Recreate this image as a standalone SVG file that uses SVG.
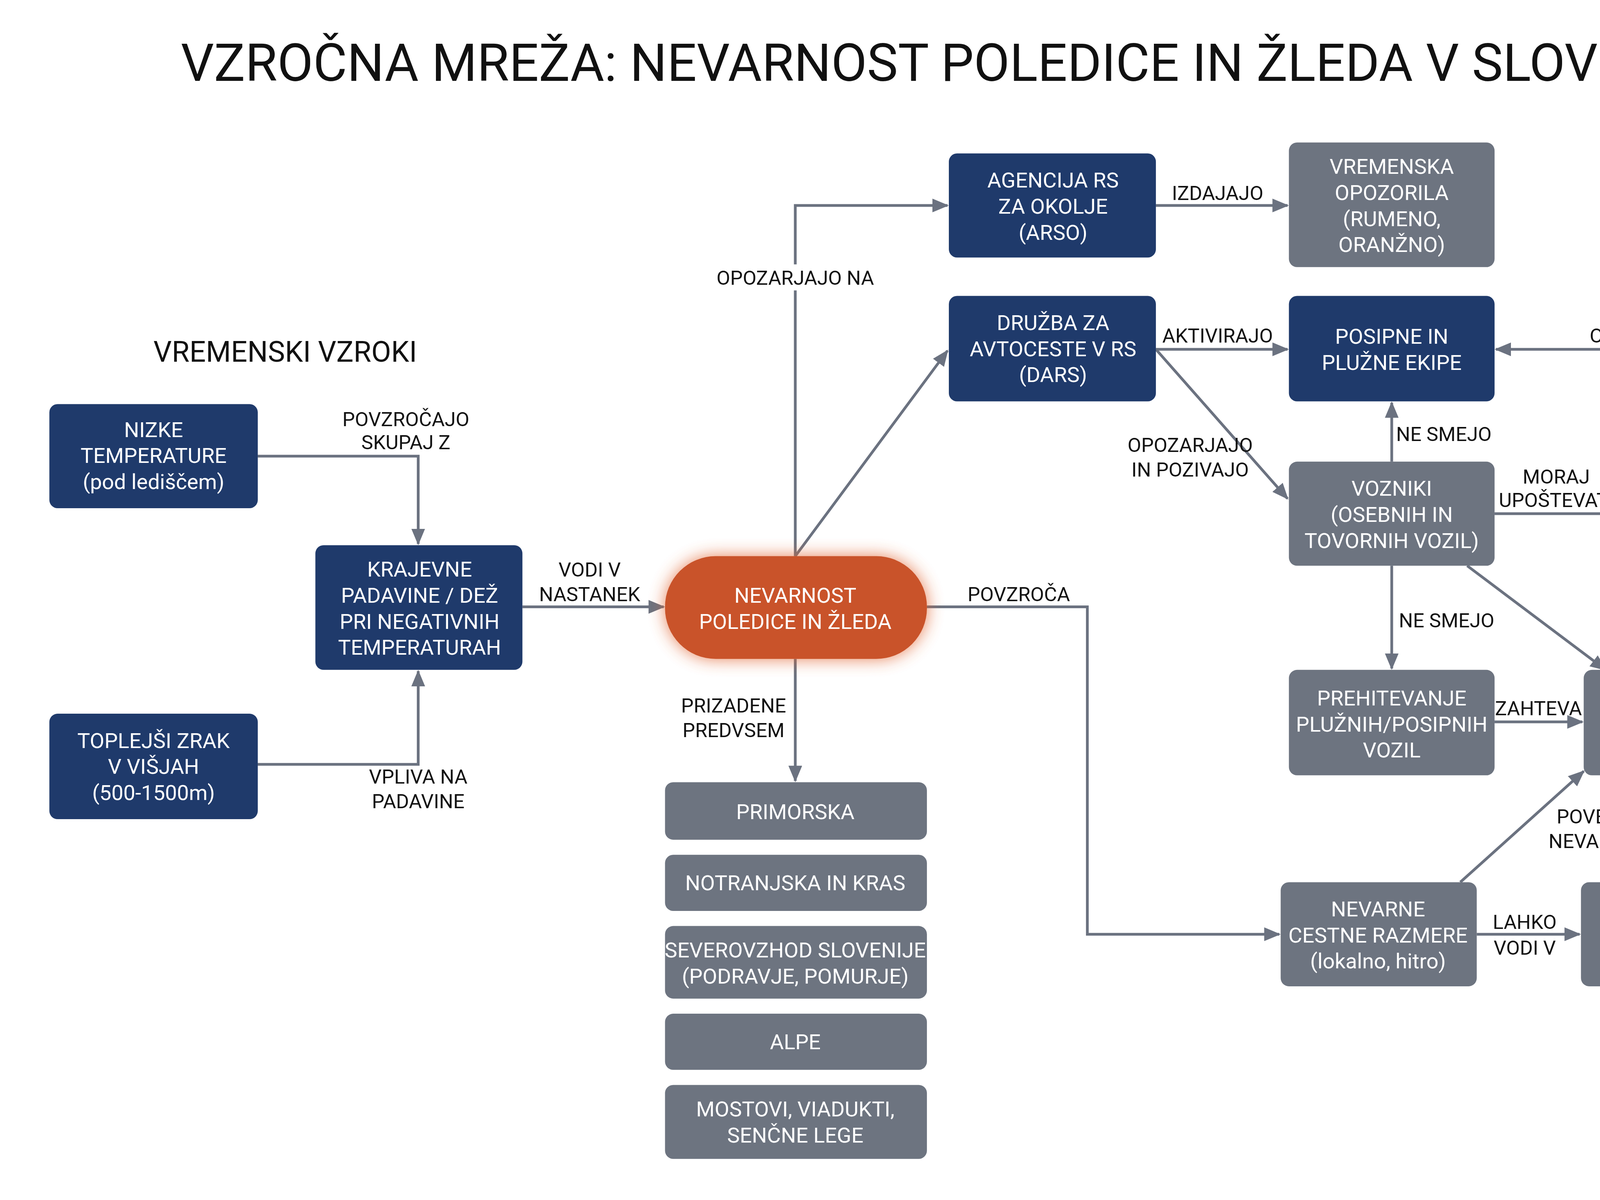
<svg xmlns="http://www.w3.org/2000/svg" width="5504" height="3072" viewBox="0 0 5504 3072">
<defs>
<marker id="ah" markerUnits="userSpaceOnUse" markerWidth="12" markerHeight="10" refX="11" refY="5" orient="auto"><path d="M0,0 L12,5 L0,10 Z" fill="#6b7280"/></marker>
<filter id="glow" x="-30%" y="-50%" width="160%" height="200%"><feGaussianBlur stdDeviation="6"/></filter>
<style>
.nv{fill:#1f3a6b}
.gr{fill:#6d7480}
.t{font-family:Roboto,"Liberation Sans",sans-serif;font-size:15.5px;fill:#ffffff;text-anchor:middle}
.l{font-family:Roboto,"Liberation Sans",sans-serif;font-size:14.5px;fill:#111111;text-anchor:middle}
.c{fill:none;stroke:#6b7280;stroke-width:2;marker-end:url(#ah)}
</style>
</defs>
<rect width="5504" height="3072" fill="#ffffff"/>
<g transform="scale(3.5102,3.5068)">
<text x="784" y="59" font-family="Roboto,'Liberation Sans',sans-serif" font-size="38" fill="#111" text-anchor="middle">VZROČNA MREŽA: NEVARNOST POLEDICE IN ŽLEDA V SLOVENIJI (JANUAR)</text>
<text x="208" y="264" font-family="Roboto,'Liberation Sans',sans-serif" font-size="21" fill="#111" text-anchor="middle">VREMENSKI VZROKI</text>

<g id="connectors">
<path class="c" d="M188,333 H305 V397"/>
<path class="c" d="M188,558 H305 V490"/>
<path class="c" d="M381,443 H484"/>
<path class="c" d="M580,406 V150 H691"/>
<path class="c" d="M580,406 L691,256"/>
<path class="c" d="M580,481 V570"/>
<path class="c" d="M676,443 H793 V682 H933"/>
<path class="c" d="M843,150 H939"/>
<path class="c" d="M843,255 H939"/>
<path class="c" d="M843,255 L939,364"/>
<path class="c" d="M1015,337 V294"/>
<path class="c" d="M1090,375 H1180"/>
<path class="c" d="M1257,337 V255 H1091"/>
<path class="c" d="M1015,413 V488"/>
<path class="c" d="M1070,413 L1171,489"/>
<path class="c" d="M1090,527 H1154"/>
<path class="c" d="M1065,644 L1155,563"/>
<path class="c" d="M1077,682 H1152"/>
<path class="c" d="M1296,682 H1389"/>
<text class="l" x="296" y="311">POVZROČAJO</text><text class="l" x="296" y="328">SKUPAJ Z</text>
<text class="l" x="305" y="572">VPLIVA NA</text><text class="l" x="305" y="590">PADAVINE</text>
<text class="l" x="430" y="421">VODI V</text><text class="l" x="430" y="439">NASTANEK</text>
<rect x="522" y="193" width="116" height="19" fill="#fff"/><text class="l" x="580" y="208">OPOZARJAJO NA</text>
<text class="l" x="535" y="520">PRIZADENE</text><text class="l" x="535" y="538">PREDVSEM</text>
<text class="l" x="743" y="439">POVZROČA</text>
<text class="l" x="888" y="146">IZDAJAJO</text>
<text class="l" x="888" y="250">AKTIVIRAJO</text>
<text class="l" x="868" y="330">OPOZARJAJO</text><text class="l" x="868" y="348">IN POZIVAJO</text>
<text class="l" x="1053" y="322">NE SMEJO</text>
<text class="l" x="1135" y="353">MORAJ</text><text class="l" x="1135" y="370">UPOŠTEVATI</text>
<text class="l" x="1180" y="250">OVIRA</text>
<text class="l" x="1055" y="458">NE SMEJO</text>
<text class="l" x="1122" y="522">ZAHTEVA</text>
<text class="l" x="1171" y="601">POVEČUJE</text><text class="l" x="1171" y="619">NEVARNOST</text>
<text class="l" x="1112" y="678">LAHKO</text><text class="l" x="1112" y="697">VODI V</text>
<text class="l" x="1342" y="677">POVZROČAJO</text>
</g>

<g id="n_nizke"><rect class="nv" x="36" y="295" width="152" height="76" rx="6"/><text class="t" x="112" y="319">NIZKE</text><text class="t" x="112" y="338">TEMPERATURE</text><text class="t" x="112" y="357">(pod lediščem)</text></g>
<g id="n_krajevne"><rect class="nv" x="230" y="398" width="151" height="91" rx="6"/><text class="t" x="306" y="421">KRAJEVNE</text><text class="t" x="306" y="440">PADAVINE / DEŽ</text><text class="t" x="306" y="459">PRI NEGATIVNIH</text><text class="t" x="306" y="478">TEMPERATURAH</text></g>
<g id="n_toplejsi"><rect class="nv" x="36" y="521" width="152" height="77" rx="6"/><text class="t" x="112" y="546">TOPLEJŠI ZRAK</text><text class="t" x="112" y="565">V VIŠJAH</text><text class="t" x="112" y="584">(500-1500m)</text></g>
<g id="n_nevarnost"><rect x="485" y="406" width="191" height="75" rx="37" fill="#e0622e" filter="url(#glow)" opacity="0.8"/><rect x="485" y="406" width="191" height="75" rx="37" fill="#c9532a"/><text class="t" x="580" y="440">NEVARNOST</text><text class="t" x="580" y="459">POLEDICE IN ŽLEDA</text></g>
<g id="n_arso"><rect class="nv" x="692" y="112" width="151" height="76" rx="6"/><text class="t" x="768" y="137">AGENCIJA RS</text><text class="t" x="768" y="156">ZA OKOLJE</text><text class="t" x="768" y="175">(ARSO)</text></g>
<g id="n_dars"><rect class="nv" x="692" y="216" width="151" height="77" rx="6"/><text class="t" x="768" y="241">DRUŽBA ZA</text><text class="t" x="768" y="260">AVTOCESTE V RS</text><text class="t" x="768" y="279">(DARS)</text></g>
<g id="n_opozorila"><rect class="gr" x="940" y="104" width="150" height="91" rx="6"/><text class="t" x="1015" y="127">VREMENSKA</text><text class="t" x="1015" y="146">OPOZORILA</text><text class="t" x="1015" y="165">(RUMENO,</text><text class="t" x="1015" y="184">ORANŽNO)</text></g>
<g id="n_posipne"><rect class="nv" x="940" y="216" width="150" height="77" rx="6"/><text class="t" x="1015" y="251">POSIPNE IN</text><text class="t" x="1015" y="270">PLUŽNE EKIPE</text></g>
<g id="n_vozniki"><rect class="gr" x="940" y="337" width="150" height="76" rx="6"/><text class="t" x="1015" y="362">VOZNIKI</text><text class="t" x="1015" y="381">(OSEBNIH IN</text><text class="t" x="1015" y="400">TOVORNIH VOZIL)</text></g>
<g id="n_preh1"><rect class="gr" x="1181" y="337" width="152" height="76" rx="6"/><text class="t" x="1257" y="362">PREHITEVANJE</text><text class="t" x="1257" y="381">PLUŽNIH/POSIPNIH</text><text class="t" x="1257" y="400">VOZIL</text></g>
<g id="n_preh2"><rect class="gr" x="940" y="489" width="150" height="77" rx="6"/><text class="t" x="1015" y="515">PREHITEVANJE</text><text class="t" x="1015" y="534">PLUŽNIH/POSIPNIH</text><text class="t" x="1015" y="553">VOZIL</text></g>
<g id="n_prilagojena"><rect class="gr" x="1155" y="489" width="148" height="77" rx="6"/><text class="t" x="1229" y="515">PRILAGOJENA</text><text class="t" x="1229" y="534">VOŽNJA IN</text><text class="t" x="1229" y="553">PREVIDNOST</text></g>
<g id="n_nevarne"><rect class="gr" x="934" y="644" width="143" height="76" rx="6"/><text class="t" x="1005" y="669">NEVARNE</text><text class="t" x="1005" y="688">CESTNE RAZMERE</text><text class="t" x="1005" y="707">(lokalno, hitro)</text></g>
<g id="n_zdrsi"><rect class="gr" x="1153" y="644" width="143" height="76" rx="6"/><text class="t" x="1224" y="669">ZDRSI VOZIL</text><text class="t" x="1224" y="688">(PREDVSEM</text><text class="t" x="1224" y="707">TOVORNIH)</text></g>
<g id="n_popolne"><rect class="gr" x="1390" y="634" width="141" height="96" rx="6"/><text class="t" x="1460" y="660">POPOLNE</text><text class="t" x="1460" y="679">ZAPORE AVTOCEST</text><text class="t" x="1460" y="698">IN DOLGOTRAJNI</text><text class="t" x="1460" y="717">ZASTOJI</text></g>
<g id="n_primorska"><rect class="gr" x="485" y="571" width="191" height="42" rx="6"/><text class="t" x="580" y="598">PRIMORSKA</text></g>
<g id="n_notranjska"><rect class="gr" x="485" y="624" width="191" height="41" rx="6"/><text class="t" x="580" y="650">NOTRANJSKA IN KRAS</text></g>
<g id="n_severovzhod"><rect class="gr" x="485" y="676" width="191" height="53" rx="6"/><text class="t" x="580" y="699">SEVEROVZHOD SLOVENIJE</text><text class="t" x="580" y="718">(PODRAVJE, POMURJE)</text></g>
<g id="n_alpe"><rect class="gr" x="485" y="740" width="191" height="41" rx="6"/><text class="t" x="580" y="766">ALPE</text></g>
<g id="n_mostovi"><rect class="gr" x="485" y="792" width="191" height="54" rx="6"/><text class="t" x="580" y="815">MOSTOVI, VIADUKTI,</text><text class="t" x="580" y="834">SENČNE LEGE</text></g>
</g>
</svg>
